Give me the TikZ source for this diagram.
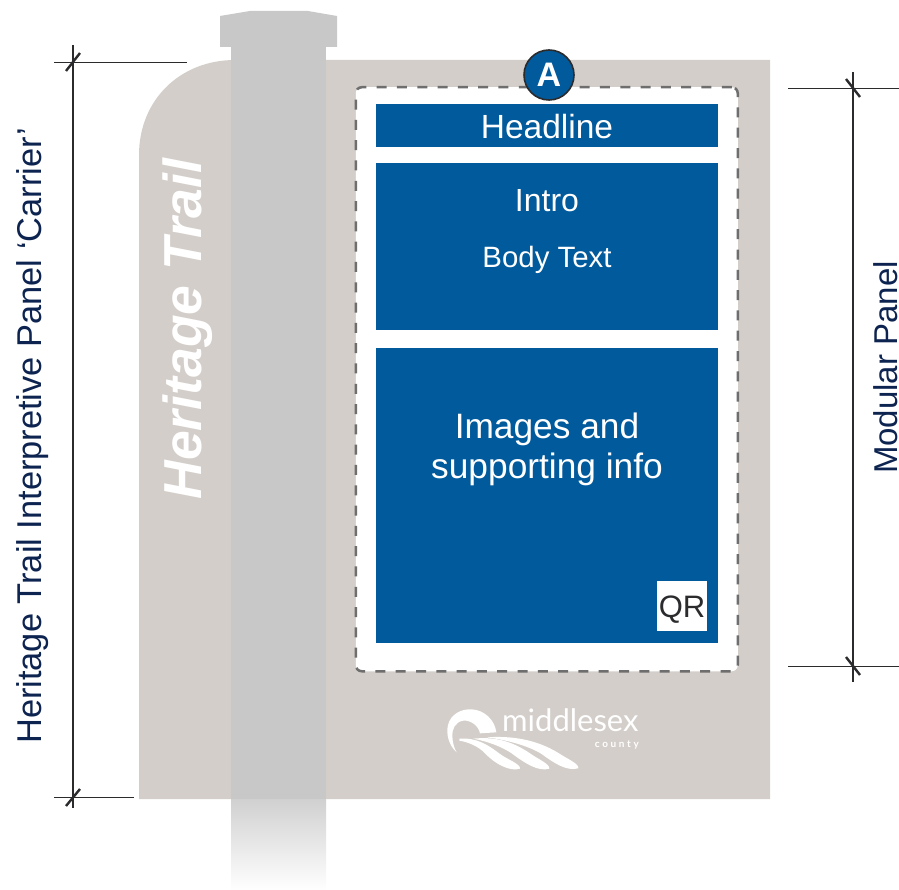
\documentclass[tikz,border=0pt]{standalone}
\usepackage{fontspec}
\setmainfont{Liberation Sans}
\newfontfamily\arialfont{Liberation Sans}
\newfontfamily\latofont{Lato}
\newcommand{\myfs}[1]{\fontsize{#1}{#1}\selectfont}
\definecolor{carrier}{HTML}{D3CEC9}
\definecolor{postgrey}{HTML}{C8C8C8}
\definecolor{bluebox}{HTML}{005A9C}
\definecolor{inkdark}{HTML}{2B2B2E}
\definecolor{labelnavy}{HTML}{0D2350}
\definecolor{dashgrey}{HTML}{6E6E6E}
\tikzset{
  bluepanel/.style={fill=bluebox,draw=none,rectangle,inner sep=0pt,minimum width=342pt,anchor=north west},
  whitetext/.style={text=white,inner sep=0pt,align=center},
  dimline/.style={draw=inkdark,line width=1.3pt},
  ticklineh/.style={draw=inkdark,line width=0.9pt},
  slashmark/.style={draw=inkdark,line width=2.4pt},
  dimlabel/.style={text=labelnavy,inner sep=0pt,rotate=90,anchor=base}
}
\begin{document}
\begin{tikzpicture}[x=1pt,y=-1pt]
\useasboundingbox (0,0) rectangle (899,890);
% carrier
\fill[carrier] (139,799) -- (139,155) .. controls (139,100) and (180,60) .. (235,60) -- (770,60) -- (770,799) -- cycle;
% post
\fill[postgrey] (231,47) rectangle (326,799);
\shade[top color=postgrey!85!white,bottom color=white] (231,799) rectangle (326,890);
\fill[postgrey] (220,47) -- (220,16) -- (250,11) -- (308,11) -- (337,16) -- (337,47) -- cycle;
% heritage trail
\node[whitetext,rotate=90,font=\arialfont\bfseries\itshape\myfs{53.5}] (trail) at (188,329) {Heritage Trail};
% modular frame
\node[draw=dashgrey,fill=white,line width=2.5pt,dash pattern=on 10pt off 10.3pt,rounded corners=6pt,minimum width=382pt,minimum height=584pt,inner sep=0pt,anchor=north west] (frame) at (354.5,86) {};
% panels
\node[bluepanel,minimum height=43pt] (headline) at (376,104) {};
\node[whitetext,font=\myfs{33.5},anchor=base] (headlinetext) at (547,139) {Headline};
\node[bluepanel,minimum height=167pt] (intro) at (376,163) {};
\node[whitetext,font=\myfs{32},anchor=base] (introtext) at (547,212) {Intro};
\node[whitetext,font=\myfs{29.4},anchor=base] (bodytext) at (547,268) {Body Text};
\node[bluepanel,minimum height=295pt] (images) at (376,348) {};
\node[whitetext,font=\myfs{35.3},anchor=base] (imagestext) at (547,438) {Images and};
\node[whitetext,font=\myfs{35.3},anchor=base] (imagestext2) at (547,478) {supporting info};
\node[fill=white,minimum width=50pt,minimum height=50pt,inner sep=0pt] (qr) at (682,606) {};
\node[text=inkdark,inner sep=0pt,anchor=base,font=\myfs{31}] (qrtext) at (682,617) {QR};
% A badge
\node[circle,draw=inkdark,line width=1.6pt,fill=bluebox,minimum size=50pt,inner sep=0pt,text=white,font=\arialfont\bfseries\myfs{34}] (badge) at (549,75) {A};
% left dimension
\coordinate (ltop) at (73,45);
\coordinate (lbot) at (73,808);
\coordinate (lta) at (54,62);
\coordinate (ltb) at (187,62);
\coordinate (lba) at (54,797);
\coordinate (lbb) at (134,797);
\draw[dimline] (ltop) -- (lbot);
\draw[ticklineh] (lta) -- (ltb);
\draw[ticklineh] (lba) -- (lbb);
\draw[slashmark] (66,71) -- (80,53);
\draw[slashmark] (66,806) -- (80,789);
\node[dimlabel,font=\myfs{34.4}] (carrierlabel) at (41,436) {Heritage Trail Interpretive Panel ‘Carrier’};
% right dimension
\coordinate (rtop) at (853,72);
\coordinate (rbot) at (853,682);
\coordinate (rta) at (788,88);
\coordinate (rtb) at (900,88);
\coordinate (rba) at (788,666);
\coordinate (rbb) at (900,666);
\draw[dimline] (rtop) -- (rbot);
\draw[ticklineh] (rta) -- (rtb);
\draw[ticklineh] (rba) -- (rbb);
\draw[slashmark] (846,79) -- (860,97);
\draw[slashmark] (846,657) -- (860,675);
\node[dimlabel,font=\myfs{33}] (modularlabel) at (897.5,367.5) {Modular Panel};
% logo
\begin{scope}[shift={(420,690)},x=0.3333pt,y=-0.3333pt]
\fill[white] (110,187) .. controls (85,165) and (78,130) .. (84,105) .. controls (92,72) and (125,56) .. (155,58)
  .. controls (195,60) and (225,92) .. (229,127) -- (180,130) .. controls (175,105) and (150,90) .. (130,92)
  .. controls (105,95) and (95,120) .. (97,140) .. controls (98,160) and (103,175) .. (110,187) -- cycle;
\fill[white] (118,146) .. controls (170,142) and (205,165) .. (240,192) .. controls (265,210) and (302,222) .. (300,236)
  .. controls (270,246) and (225,222) .. (195,190) .. controls (175,168) and (140,155) .. (118,152) -- cycle;
\fill[white] (160,146) .. controls (235,138) and (285,160) .. (330,190) .. controls (355,208) and (390,222) .. (388,236)
  .. controls (355,246) and (315,220) .. (275,190) .. controls (245,170) and (205,155) .. (160,146) -- cycle;
\fill[white] (200,142) .. controls (300,135) and (370,160) .. (420,192) .. controls (445,208) and (478,222) .. (475,235)
  .. controls (440,245) and (400,218) .. (365,192) .. controls (330,170) and (265,150) .. (200,142) -- cycle;
\end{scope}
\node[text=white,inner sep=0pt,anchor=base west,font=\latofont\myfs{31}] (logoname) at (502,731) {middlesex};
\node[text=white,inner sep=0pt,anchor=base east,font=\latofont\bfseries\myfs{10}] (logocounty) at (639,747) {c\hspace{2.6pt}o\hspace{2.6pt}u\hspace{2.6pt}n\hspace{2.6pt}t\hspace{2.6pt}y};
\end{tikzpicture}
\end{document}
